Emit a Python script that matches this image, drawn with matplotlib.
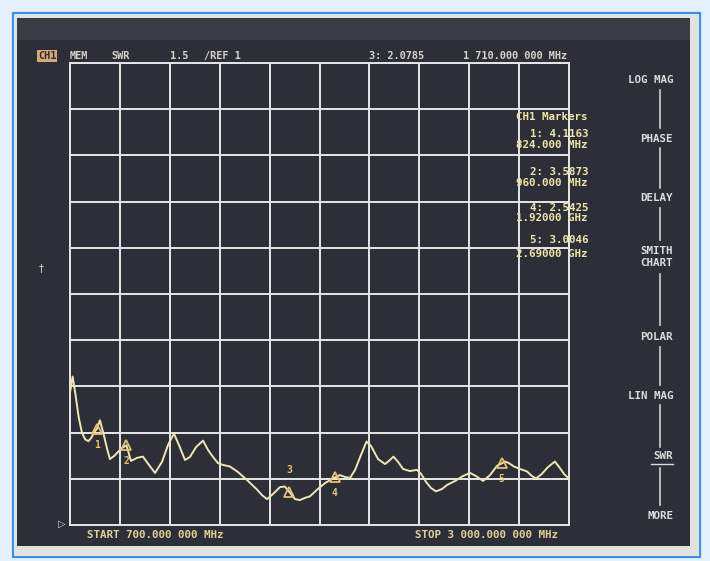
import matplotlib
matplotlib.use("Agg")
import matplotlib.pyplot as plt
from matplotlib.patches import Rectangle

# ---------------- data ----------------
freq_mhz = [700, 712, 725, 740, 755, 770, 785, 800, 812, 824, 838, 855, 870, 884,
            905, 921, 940, 960, 981, 1009, 1036, 1064, 1092, 1124, 1152, 1179, 1202,
            1230, 1253, 1281, 1313, 1336, 1359, 1382, 1405, 1437, 1474, 1516, 1562,
            1585, 1608, 1636, 1668, 1690, 1710, 1737, 1760, 1783, 1806, 1838, 1875,
            1920, 1944, 1967, 1991, 2014, 2041, 2067, 2087, 2120, 2152, 2170, 2191,
            2212, 2235, 2267, 2299, 2318, 2341, 2364, 2387, 2415, 2438, 2475, 2511,
            2544, 2571, 2604, 2636, 2668, 2690, 2705, 2723, 2746, 2774, 2806, 2829,
            2848, 2875, 2903, 2935, 2958, 2977, 3000]
swr = [5.30, 5.82, 5.25, 4.50, 4.00, 3.78, 3.72, 3.85, 4.02, 4.12, 4.40, 3.95, 3.50,
       3.14, 3.25, 3.37, 3.50, 3.59, 3.08, 3.18, 3.22, 2.95, 2.69, 3.05, 3.60, 3.97,
       3.60, 3.11, 3.21, 3.53, 3.74, 3.44, 3.21, 3.01, 2.95, 2.90, 2.72, 2.46, 2.15,
       1.97, 1.84, 2.01, 2.23, 2.25, 2.08, 1.84, 1.81, 1.88, 1.93, 2.14, 2.36, 2.54,
       2.62, 2.56, 2.53, 2.79, 3.27, 3.71, 3.57, 3.14, 2.98, 3.08, 3.22, 3.05, 2.82,
       2.75, 2.79, 2.66, 2.40, 2.20, 2.09, 2.17, 2.30, 2.43, 2.59, 2.69, 2.59, 2.43,
       2.62, 2.92, 3.00, 3.06, 3.01, 2.90, 2.82, 2.74, 2.59, 2.51, 2.66, 2.88, 3.06,
       2.85, 2.66, 2.50]

marker_ids = ["1", "2", "3", "4", "5"]
marker_freq = [824, 960, 1710, 1920, 2690]
marker_swr = [4.1163, 3.5873, 2.0785, 2.5425, 3.0046]

start_mhz, stop_mhz = 700, 3000
ref_value, scale_per_div = 1, 1.5

header_texts = ["MEM", "SWR", "1.5", "/REF 1", "3: 2.0785", "1 710.000 000 MHz"]
marker_table = ["CH1 Markers", "1: 4.1163", "824.000 MHz", "2: 3.5873", "960.000 MHz",
                "4: 2.5425", "1.92000 GHz", "5: 3.0046", "2.69000 GHz"]
menu_labels = ["LOG MAG", "PHASE", "DELAY", "SMITH\nCHART", "POLAR", "LIN MAG", "SWR", "MORE"]
start_label = "START 700.000 000 MHz"
stop_label = "STOP 3 000.000 000 MHz"

# ---------------- figure ----------------
W, H = 710, 561
fig = plt.figure(figsize=(W / 100, H / 100), dpi=100)
fig.patch.set_facecolor("#e4f1fc")

def fx(x):
    return x / W

def fy(y):
    return 1 - y / H

def rect(x0, y0, x1, y1, **kw):
    fig.patches.append(Rectangle((fx(x0), fy(y1)), (x1 - x0) / W, (y1 - y0) / H,
                                 transform=fig.transFigure, figure=fig, zorder=-5, **kw))

# photo frame
rect(13, 13, 700, 557, facecolor="none", edgecolor="#3d8fe8", lw=1.6)
rect(15, 15, 699, 556, facecolor="#e2e2df", edgecolor="none")
rect(17, 18, 690, 546, facecolor="#2c2f37", edgecolor="none")
rect(17, 18, 690, 40, facecolor="#3a3d45", edgecolor="none")

mono = "DejaVu Sans Mono"
hdr_col = "#d8d2c8"
mk_col = "#efe3a8"
tr_col = "#f3e4b4"
FS = 7.8

# main axes
ax = fig.add_axes([fx(70), fy(525), 499 / W, 462 / H])
ax.set_zorder(2)
ax.set_facecolor("#2c2f37")
ax.set_xlim(start_mhz, stop_mhz)
ax.set_ylim(ref_value, ref_value + 10 * scale_per_div)
ax.set_xticks([start_mhz + i * (stop_mhz - start_mhz) / 10 for i in range(11)])
ax.set_yticks([ref_value + i * scale_per_div for i in range(11)])
ax.grid(True, color="#e6e6e6", lw=1.4)
ax.tick_params(length=0, labelbottom=False, labelleft=False)
for s in ax.spines.values():
    s.set_color("#e6e6e6")
    s.set_linewidth(1.4)

ax.plot(freq_mhz, swr, color=tr_col, lw=1.4, zorder=3, solid_joinstyle="round")
for mid, mf, ms in zip(marker_ids, marker_freq, marker_swr):
    ax.plot([mf], [ms], marker="^", ms=6.5, mfc="none", mec="#e8c070", mew=1.3, zorder=4)
    if mid == "3":
        ax.text(mf, ms + 0.55, mid, color="#e8c070", fontsize=7, family=mono,
                ha="center", va="bottom", fontweight="bold", zorder=4)
    else:
        ax.text(mf, ms - 0.35, mid, color="#e8c070", fontsize=7, family=mono,
                ha="center", va="top", fontweight="bold", zorder=4)

# header
fig.text(fx(38), fy(56), "CH1", color="#2c2f37", fontsize=7.4, family=mono, fontweight="bold",
         va="center", ha="left",
         bbox=dict(boxstyle="square,pad=0.1", facecolor="#d9a878", edgecolor="none"))
for t, x in zip(header_texts, [70, 111, 170, 204, 369, 463]):
    fig.text(fx(x), fy(56), t, color=hdr_col, fontsize=7.4, family=mono,
             fontweight="bold", va="center", ha="left")

# marker table
ys = [117, 134, 145, 172, 183, 208, 218, 240, 254]
for t, y in zip(marker_table, ys):
    fig.text(fx(588), fy(y), t, color=mk_col, fontsize=FS, family=mono,
             fontweight="bold", va="center", ha="right", zorder=5)

# softkey menu
menu_y = [80, 139, 198, 257, 337, 396, 456, 516]
for lab, y in zip(menu_labels, menu_y):
    fig.text(fx(673), fy(y), lab, color="#dcdcdc", fontsize=FS, family=mono,
             fontweight="bold", va="center", ha="right", linespacing=1.3)
# underline SWR
fig.lines.append(plt.Line2D([fx(651), fx(673)], [fy(464), fy(464)], color="#dcdcdc",
                            lw=1.0, transform=fig.transFigure))
segs = [(90, 128), (148, 188), (208, 240), (274, 325), (347, 385), (405, 447), (468, 505)]
for a, b in segs:
    fig.lines.append(plt.Line2D([fx(660), fx(660)], [fy(a), fy(b)], color="#cfcfcf",
                                lw=1.2, transform=fig.transFigure))

# bottom labels
fig.text(fx(87), fy(535), start_label, color="#e2cf98", fontsize=FS, family=mono,
         fontweight="bold", va="center", ha="left")
fig.text(fx(415), fy(535), stop_label, color="#e2cf98", fontsize=FS, family=mono,
         fontweight="bold", va="center", ha="left")

# reference indicators
fig.text(fx(62), fy(524), "\u25b7", color="#dcdcdc", fontsize=7, family="DejaVu Sans",
         va="center", ha="center", zorder=5)
fig.text(fx(41), fy(268), "\u2020", color="#e0d8c0", fontsize=7, family="DejaVu Sans",
         va="center", ha="center")

fig.savefig("out.png", dpi=100, facecolor=fig.get_facecolor())
